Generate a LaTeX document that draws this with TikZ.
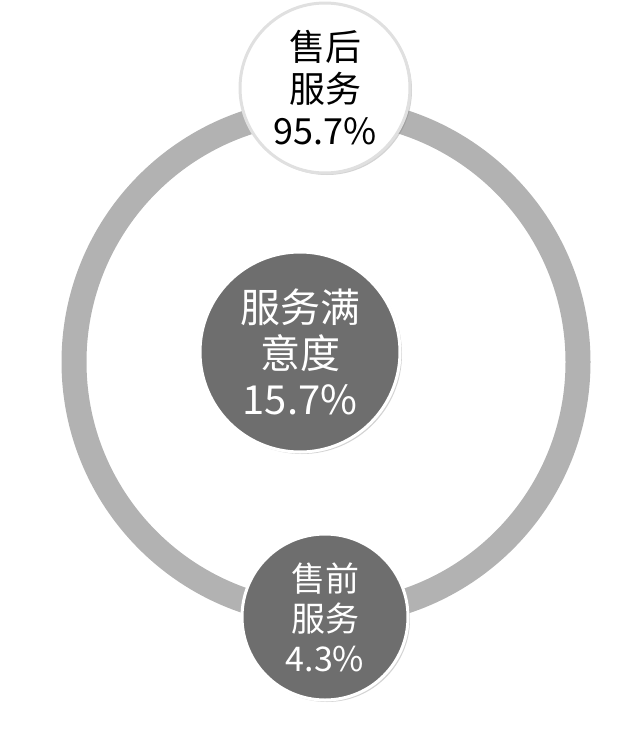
\documentclass[tikz,border=0pt]{standalone}
\usepackage{fontspec}
\setmainfont{Noto Sans CJK SC}
\usetikzlibrary{shadows}
\definecolor{ringgray}{RGB}{178,178,178}
\definecolor{darkgray}{RGB}{110,110,110}
\tikzset{
  bubble/.style={circle, draw=white, line width=3pt, align=center, font=\fontsize{36}{42}\selectfont,
    drop shadow={shadow xshift=2pt, shadow yshift=-2pt, opacity=0.35}},
  lightbubble/.style={bubble, fill=white, draw=black!12, text=black},
  darkbubble/.style={bubble, fill=darkgray, text=white}
}
\begin{document}
\begin{tikzpicture}[x=1pt, y=1pt]
  \useasboundingbox (0,0) rectangle (630,-750);
  % ring
  \draw[ringgray, line width=25pt] (326,-362) circle (252);
  % bubbles
  \node[darkbubble, minimum size=200pt, font=\fontsize{40}{46}\selectfont] (center) at (300,-352) {服务满\\意度\\15.7\%};
  \node[lightbubble, minimum size=170pt] (after) at (325,-88) {售后\\服务\\95.7\%};
  \node[darkbubble, minimum size=166pt, font=\fontsize{34}{40}\selectfont] (before) at (325,-617) {售前\\服务\\4.3\%};
\end{tikzpicture}
\end{document}
